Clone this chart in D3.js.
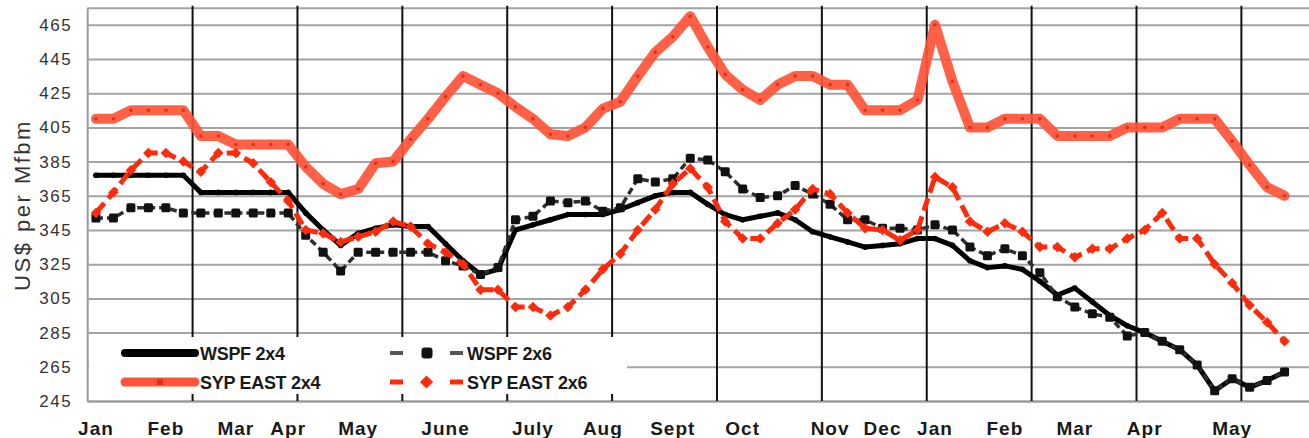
<!DOCTYPE html>
<html>
<head>
<meta charset="utf-8">
<script src="https://cdn.jsdelivr.net/npm/d3@7"></script>
<style>
  html, body { margin: 0; padding: 0; background: #fff; overflow: hidden; }
  svg { display: block; font-family: "Liberation Sans", Arial, sans-serif; }
</style>
</head>
<body>
<div id="vis-display"></div>
<script>
// Weekly lumber prices, US$ per Mfbm — four series over ~17 months.

const WSPF_2X4 = [
  377, 377, 377, 377, 377, 377, 367, 367, 367, 367, 367, 367,
  355, 345, 336, 343, 346, 348, 347, 347,
  337, 327, 319, 322, 345, 348, 351, 354, 354, 354, 357, 361, 365, 367, 367, 360, 354,
  351, 353, 355, 351, 344, 341, 338, 335, 336, 337, 340, 340, 336, 327, 323, 324, 322, 315,
  307, 311, 303, 295, 289, 285, 280, 275, 266, 251, 258, 253, 257, 262
];

const WSPF_2X6 = [
  352, 352, 358, 358, 358, 355, 355, 355, 355, 355, 355, 355,
  342, 332, 321, 332, 332, 332, 332, 332,
  327, 324, 319, 323, 351, 353, 362, 361, 362, 356, 358, 375, 373, 375, 387, 386, 379,
  369, 364, 365, 371, 366, 360, 351, 351, 346, 346, 345, 348, 345, 335, 330, 334, 330, 320,
  306, 300, 296, 294, 283, 285, 280, 275, 266, 251, 258, 253, 257, 262
];

const SYP_EAST_2X4 = [
  410, 410, 415, 415, 415, 415, 400, 400, 395, 395, 395, 395,
  382, 372, 366, 369, 384, 385, 398, 410,
  423, 435, 430, 425, 417, 410, 401, 400, 405, 416, 420, 435, 449, 458, 470, 452, 436,
  427, 421, 430, 435, 435, 430, 430, 415, 415, 415, 421, 465, 432, 405, 405, 410, 410, 410,
  400, 400, 400, 400, 405, 405, 405, 410, 410, 410, 397, 383, 370, 365
];

const SYP_EAST_2X6 = [
  355, 367, 380, 390, 390, 385, 379, 390, 390, 384, 373, 362,
  345, 343, 338, 341, 344, 350, 347, 337,
  332, 325, 310, 310, 300, 300, 295, 300, 310, 322, 331, 345, 357, 372, 381, 370, 350,
  340, 340, 349, 357, 369, 366, 355, 346, 345, 339, 345, 376, 370, 350, 344, 349, 344, 335,
  335, 329, 334, 334, 340, 345, 355, 340, 340, 325, 314, 301, 291, 280
];

const MONTH_LABELS = ["Jan", "Feb", "Mar", "Apr", "May", "June", "July", "Aug", "Sept",
                      "Oct", "Nov", "Dec", "Jan", "Feb", "Mar", "Apr", "May"];
const MONTH_WEEKS  = [0, 4, 8, 11, 15, 20, 25, 29, 33, 37, 42, 45, 48, 52, 56, 60, 65];

const Y_TICKS = [245, 265, 285, 305, 325, 345, 365, 385, 405, 425, 445, 465];

const W = 1309, H = 438;
const plot = { left: 87.2, right: 1310.8, top: 7.7, bottom: 401 };
const N_WEEKS = 70;

const x = d3.scaleLinear().domain([-0.5, N_WEEKS - 0.5]).range([plot.left, plot.right]);
const y = d3.scaleLinear().domain([245, 475]).range([plot.bottom, plot.top]);

const svg = d3.select("#vis-display").append("svg")
  .attr("width", W).attr("height", H);

// ── Horizontal grid + y labels ───────────────────────────────────────────

svg.append("g")
  .attr("transform", `translate(${plot.left},0)`)
  .call(d3.axisLeft(y).tickValues(Y_TICKS.concat([475]))
    .tickSizeInner(-(plot.right - plot.left)).tickSizeOuter(0).tickPadding(15)
    .tickFormat(d => d === 475 ? "" : d))
  .call(ax => ax.select(".domain").attr("stroke", "#9a9a9a").attr("stroke-width", 2))
  .call(ax => ax.selectAll(".tick line").attr("stroke", "#a3a3a3").attr("stroke-width", 2))
  .call(ax => ax.selectAll(".tick text")
    .attr("fill", "#333").style("font-size", "17px").style("letter-spacing", "1.5px"));

svg.append("text")
  .attr("transform", `translate(30,205) rotate(-90)`)
  .attr("text-anchor", "middle")
  .attr("fill", "#333")
  .style("font-size", "22px")
  .style("letter-spacing", "2.5px")
  .text("US$ per Mfbm");

// ── Month separators (every 6 weeks) ──────────────────────────────────────

const gridWeeks = d3.range(5.5, N_WEEKS, 6);
svg.append("g")
  .attr("transform", `translate(0,${plot.bottom})`)
  .call(d3.axisBottom(x).tickValues(gridWeeks)
    .tickSizeInner(-(plot.bottom - plot.top + 2)).tickSizeOuter(0).tickFormat(""))
  .call(ax => ax.select(".domain").attr("stroke", "#9a9a9a").attr("stroke-width", 2))
  .call(ax => ax.selectAll(".tick line").attr("stroke", "#111").attr("stroke-width", 2));

// ── Month labels ──────────────────────────────────────────────────────────

svg.append("g")
  .selectAll("text")
  .data(MONTH_WEEKS)
  .join("text")
    .attr("x", d => x(d))
    .attr("y", 435)
    .attr("text-anchor", "middle")
    .attr("fill", "#1a1a1a")
    .style("font-size", "19px")
    .style("font-weight", "bold")
    .style("letter-spacing", "1px")
    .text((d, i) => MONTH_LABELS[i]);

// ── Legend box (white, covers grid) ──────────────────────────────────────

const legend = svg.append("g");
legend.append("rect")
  .attr("x", 89).attr("y", 337).attr("width", 538).attr("height", 57)
  .attr("fill", "#fff");

// ── Series ────────────────────────────────────────────────────────────────

const line = d3.line().x((d, i) => x(i)).y(d => y(d));
const g = svg.append("g");

// WSPF 2x4
g.append("path").datum(WSPF_2X4)
  .attr("d", line).attr("fill", "none")
  .attr("stroke", "#000").attr("stroke-width", 5)
  .attr("stroke-linejoin", "round").attr("stroke-linecap", "round");
g.append("g").selectAll("circle").data(WSPF_2X4).join("circle")
  .attr("cx", (d, i) => x(i)).attr("cy", d => y(d)).attr("r", 2.8).attr("fill", "#000");

// WSPF 2x6
g.append("path").datum(WSPF_2X6)
  .attr("d", line).attr("fill", "none")
  .attr("stroke", "#2e2e2e").attr("stroke-width", 3.5)
  .attr("stroke-dasharray", "7,4");
g.append("g").selectAll("rect").data(WSPF_2X6).join("rect")
  .attr("x", (d, i) => x(i) - 4.5).attr("y", d => y(d) - 4.5)
  .attr("width", 9).attr("height", 9).attr("rx", 1.5).attr("fill", "#111");

// SYP EAST 2x4
g.append("path").datum(SYP_EAST_2X4)
  .attr("d", line).attr("fill", "none")
  .attr("stroke", "#ff5236").attr("stroke-opacity", 0.92).attr("stroke-width", 10)
  .attr("stroke-linejoin", "round").attr("stroke-linecap", "round");
g.append("g").selectAll("circle").data(SYP_EAST_2X4).join("circle")
  .attr("cx", (d, i) => x(i)).attr("cy", d => y(d)).attr("r", 1.8).attr("fill", "#e0301c");

// SYP EAST 2x6
const diamond = d3.symbol().type(d3.symbolDiamond2).size(70);
g.append("path").datum(SYP_EAST_2X6)
  .attr("d", line).attr("fill", "none")
  .attr("stroke", "#ff2a0a").attr("stroke-width", 5)
  .attr("stroke-dasharray", "13,6");
g.append("g").selectAll("path").data(SYP_EAST_2X6).join("path")
  .attr("d", diamond)
  .attr("transform", (d, i) => `translate(${x(i)},${y(d)})`)
  .attr("fill", "#ff2a0a");

// ── Legend entries ────────────────────────────────────────────────────────

const legText = (tx, ty, label) => legend.append("text")
  .attr("x", tx).attr("y", ty + 6.5)
  .attr("fill", "#1a1a1a")
  .style("font-size", "18px").style("font-weight", "bold").style("letter-spacing", "-0.3px")
  .text(label);

// row 1, col 1 — WSPF 2x4
legend.append("line").attr("x1", 125).attr("x2", 195).attr("y1", 353).attr("y2", 353)
  .attr("stroke", "#000").attr("stroke-width", 8).attr("stroke-linecap", "round");
legText(200, 353, "WSPF 2x4");

// row 1, col 2 — WSPF 2x6
legend.append("line").attr("x1", 390).attr("x2", 463).attr("y1", 353).attr("y2", 353)
  .attr("stroke", "#555").attr("stroke-width", 4).attr("stroke-dasharray", "13,47,13");
legend.append("rect").attr("x", 421.5).attr("y", 347.5).attr("width", 11).attr("height", 11)
  .attr("rx", 3).attr("fill", "#111");
legText(467, 353, "WSPF 2x6");

// row 2, col 1 — SYP EAST 2x4
legend.append("line").attr("x1", 125).attr("x2", 195).attr("y1", 382).attr("y2", 382)
  .attr("stroke", "#ff5236").attr("stroke-width", 9).attr("stroke-linecap", "round");
legend.append("rect").attr("x", 157).attr("y", 379).attr("width", 6).attr("height", 6)
  .attr("fill", "#e0301c");
legText(200, 382, "SYP EAST 2x4");

// row 2, col 2 — SYP EAST 2x6
legend.append("line").attr("x1", 390).attr("x2", 463).attr("y1", 382).attr("y2", 382)
  .attr("stroke", "#ff2a0a").attr("stroke-width", 5).attr("stroke-dasharray", "13,47,13");
legend.append("path").attr("d", d3.symbol().type(d3.symbolDiamond2).size(110))
  .attr("transform", "translate(426.5,382)").attr("fill", "#ff2a0a");
legText(467, 382, "SYP EAST 2x6");
</script>
</body>
</html>
